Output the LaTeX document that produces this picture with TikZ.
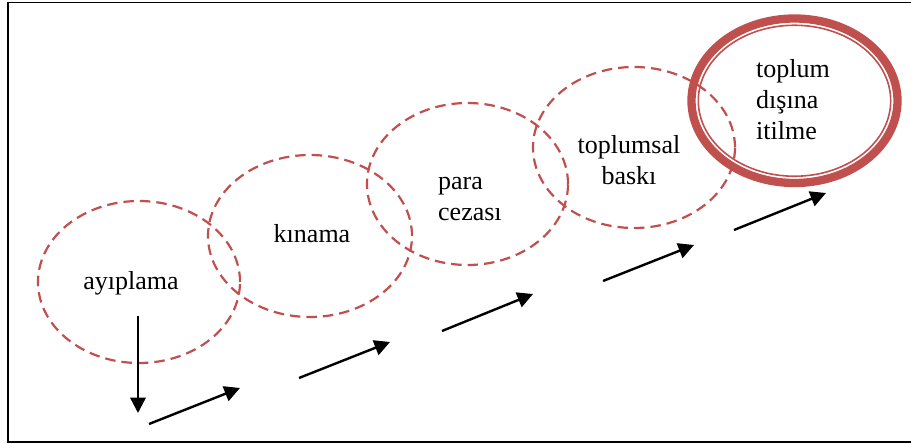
\documentclass[tikz,border=0pt]{standalone}
\usepackage{fontspec}
\setmainfont{Liberation Serif}
\usetikzlibrary{shapes.geometric,arrows.meta}
\definecolor{ringred}{HTML}{C0504D}
\tikzset{
  stage/.style={ellipse, draw=ringred, line width=2.2pt, dash pattern=on 10.5pt off 6pt,
    inner sep=0pt, minimum width=#1},
  stagetext/.style={inner sep=0pt, font=\fontsize{26}{31}\selectfont},
  stepline/.style={line width=2.4pt, -{Triangle[length=15.5pt,width=15.5pt]}},
}
\begin{document}
\begin{tikzpicture}[x=1pt,y=-1pt]
  \useasboundingbox (0,0) rectangle (911,444);
  % outer frame (right side runs past the page edge)
  \draw[line width=1.6pt] (920,2.5) -- (8,2.5) -- (8,442) -- (920,442);

  % stages
  \node[stage=202pt, minimum height=162pt] (e1) at (139,282) {};
  \node[stage=204pt, minimum height=162pt] (e2) at (310,236) {};
  \node[stage=201pt, minimum height=162pt] (e3) at (467.5,184) {};
  \node[stage=202pt, minimum height=161pt] (e4) at (634,147.5) {};
  % final stage: thick-thin double ring
  \node[ellipse, draw=ringred, line width=8.3pt, inner sep=0pt,
        minimum width=206pt, minimum height=164.5pt] (e5) at (794.5,100.75) {};
  \node[ellipse, draw=ringred, line width=1.6pt, inner sep=0pt,
        minimum width=192.4pt, minimum height=151pt] (e5in) at (e5.center) {};

  % labels
  \node[stagetext, anchor=base] (t1) at (131,289) {ayıplama};
  \node[stagetext, anchor=base] (t2) at (312,242) {kınama};
  \node[stagetext, anchor=west, align=left] (t3) at (438,199) {para\\cezası};
  \node[stagetext, align=center] (t4) at (629,160) {toplumsal\\baskı};
  \node[stagetext, anchor=west, align=left] (t5) at (756,100) {toplum\\dışına\\itilme};

  % step arrows
  \coordinate (v0) at (138,316);
  \coordinate (v1) at (138,413);
  \coordinate (a1s) at (149,424);
  \coordinate (a1e) at (240,388);
  \coordinate (a2s) at (299,378);
  \coordinate (a2e) at (390,342);
  \coordinate (a3s) at (442,331);
  \coordinate (a3e) at (533,294);
  \coordinate (a4s) at (603,281);
  \coordinate (a4e) at (694,245);
  \coordinate (a5s) at (734,230);
  \coordinate (a5e) at (826,193);
  \draw[stepline] (v0) -- (v1);
  \draw[stepline] (a1s) -- (a1e);
  \draw[stepline] (a2s) -- (a2e);
  \draw[stepline] (a3s) -- (a3e);
  \draw[stepline] (a4s) -- (a4e);
  \draw[stepline] (a5s) -- (a5e);
\end{tikzpicture}
\end{document}
